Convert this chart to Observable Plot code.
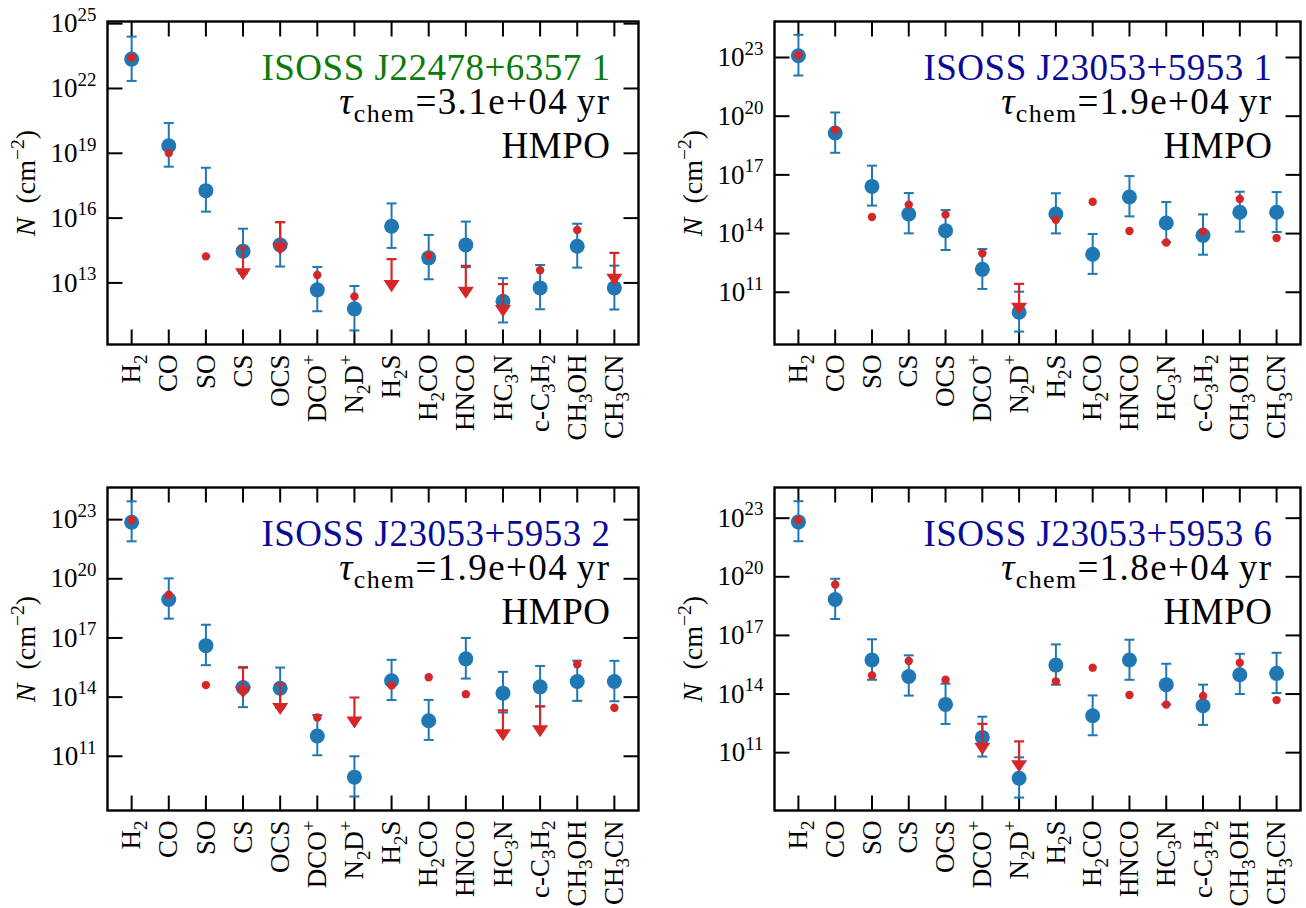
<!DOCTYPE html>
<html><head><meta charset="utf-8">
<script src="https://cdn.jsdelivr.net/npm/d3@7"></script>
<script src="https://cdn.jsdelivr.net/npm/@observablehq/plot@0.6"></script>
<style>
html,body{margin:0;padding:0;background:#fff;}
#fig{position:relative;width:1306px;height:908px;overflow:hidden;background:#fff;}
.panel{position:absolute;}
</style></head><body><div id="fig"></div>
<script>
// ---------- categories ----------
const species = ["H_2","CO","SO","CS","OCS","DCO^+","N_2D^+","H_2S","H_2CO","HNCO","HC_3N","c-C_3H_2","CH_3OH","CH_3CN"];

// ---------- panel titles ----------
const sourceNames = ["ISOSS J22478+6357 1","ISOSS J23053+5953 1","ISOSS J23053+5953 2","ISOSS J23053+5953 6"];
const sourceColors = ["#0b7a0b","#0a0a96","#0a0a96","#0a0a96"];
const tauChem = ["3.1e+04","1.9e+04","1.9e+04","1.8e+04"];
const stageLabel = ["HMPO","HMPO","HMPO","HMPO"];

// ---------- values: log10 N (cm^-2) ----------
// panel 1: ISOSS J22478+6357 1
const p1Model   = [23.36,19.35,17.27,14.47,14.76,12.68,11.80,15.62,14.16,14.76,12.15,12.77,14.70,12.77];
const p1ModelLo = [22.35,18.38,16.30,13.45,13.76,11.69,10.80,14.62,13.17,13.73,11.17,11.78,13.71,11.77];
const p1ModelHi = [24.40,20.40,18.33,15.51,15.81,13.74,12.86,16.68,15.22,15.84,13.22,13.83,15.74,13.80];
const p1Obs     = [23.43,19.01,14.23,14.65,15.81,13.37,12.37,14.10,14.27,13.79,12.94,13.59,15.45,14.39];
const p1Upper   = [0,0,0,1,1,0,0,1,0,1,1,0,0,1];
// panel 2: ISOSS J23053+5953 1
const p2Model   = [23.09,19.14,16.41,15.00,14.15,12.17,9.98,15.00,12.94,15.87,14.54,13.91,15.09,15.09];
const p2ModelLo = [22.08,18.13,15.43,14.01,13.16,11.17,8.99,14.01,11.94,14.88,13.55,12.92,14.10,14.08];
const p2ModelHi = [24.16,20.19,17.47,16.07,15.20,13.21,11.03,16.06,13.98,16.94,15.61,14.98,16.14,16.12];
const p2Obs     = [23.12,19.29,14.85,15.48,14.97,12.99,11.43,14.71,15.63,14.13,13.54,14.10,15.77,13.77];
const p2Upper   = [0,0,0,0,0,0,1,0,0,0,0,0,0,0];
// panel 3: ISOSS J23053+5953 2
const p3Model   = [22.87,18.95,16.61,14.49,14.45,12.03,9.94,14.83,12.80,15.94,14.20,14.52,14.79,14.79];
const p3ModelLo = [21.90,17.98,15.62,13.49,13.45,11.05,8.96,13.85,11.83,14.94,13.22,13.53,13.81,13.79];
const p3ModelHi = [23.93,20.02,17.67,15.53,15.50,13.09,11.00,15.89,13.86,17.00,15.28,15.58,15.85,15.84];
const p3Obs     = [22.98,19.19,14.61,15.50,14.66,12.97,13.98,14.59,15.01,14.15,13.33,13.53,15.67,13.46];
const p3Upper   = [0,0,0,1,1,0,1,0,0,0,1,1,0,0];
// panel 4: ISOSS J23053+5953 6
const p4Model   = [22.81,18.84,15.74,14.90,13.47,11.78,9.69,15.48,12.89,15.74,14.48,13.40,14.99,15.06];
const p4ModelLo = [21.82,17.84,14.73,13.92,12.47,10.80,8.70,14.48,11.89,14.73,13.47,12.42,14.00,14.05];
const p4ModelHi = [23.87,19.90,16.80,15.98,14.53,12.84,10.76,16.54,13.93,16.78,15.55,14.48,16.06,16.11];
const p4Obs     = [22.90,19.61,14.95,15.69,14.73,12.47,11.58,14.65,15.35,13.95,13.46,13.90,15.60,13.69];
const p4Upper   = [0,0,0,0,0,1,1,0,0,0,0,0,0,0];

// ---------- axis ticks / ranges (log10) ----------
const p1Ticks = [13,16,19,22,25];
const pTicks  = [11,14,17,20,23];
const p1Range = [10.15,25.1];
const p2Range = [8.33,24.84];
const p3Range = [8.25,24.63];
const p4Range = [8.04,24.57];

// ---------- styling ----------
const BLUE = "#1f77b4", RED = "#d62728";
const FONT = "Liberation Serif, DejaVu Serif, serif";
const TICK_FS = 27, LABEL_FS = 28, TITLE_FS = 37;

const panels = [
  {model:p1Model, lo:p1ModelLo, hi:p1ModelHi, obs:p1Obs, ul:p1Upper, ticks:p1Ticks, range:p1Range,
   left:0, top:0, mL:107, mR:15, mT:21, mB:110, arrow:27},
  {model:p2Model, lo:p2ModelLo, hi:p2ModelHi, obs:p2Obs, ul:p2Upper, ticks:pTicks, range:p2Range,
   left:653, top:0, mL:121, mR:6, mT:21, mB:110, arrow:25},
  {model:p3Model, lo:p3ModelLo, hi:p3ModelHi, obs:p3Obs, ul:p3Upper, ticks:pTicks, range:p3Range,
   left:0, top:454, mL:107, mR:15, mT:33, mB:98, arrow:25},
  {model:p4Model, lo:p4ModelLo, hi:p4ModelHi, obs:p4Obs, ul:p4Upper, ticks:pTicks, range:p4Range,
   left:653, top:454, mL:121, mR:6, mT:33, mB:98, arrow:25}
];

const lineShape = {draw(ctx, l){ ctx.moveTo(0,0); ctx.lineTo(0,-l); }};
const capSymbol = {draw(ctx, size){ const w = Math.sqrt(size/Math.PI); ctx.moveTo(-w,0); ctx.lineTo(w,0); }};
const arrowShape = {draw(ctx, l){
  ctx.moveTo(-5,0); ctx.lineTo(5,0);
  ctx.moveTo(0,0); ctx.lineTo(0,-(l-4));
  ctx.moveTo(-6,-(l-5)); ctx.lineTo(6,-(l-5)); ctx.lineTo(0,-(l+4)); ctx.closePath();
}};

// rich text: _x / _{..} subscript, ^x / ^{..} superscript, *..* italic
function parseRich(str){
  const segs=[]; let i=0, buf="", it=false;
  const flush=()=>{ if(buf){ segs.push({t:buf,m:"n",it}); buf=""; } };
  while(i<str.length){
    const c=str[i];
    if(c==="*"){ flush(); it=!it; i++; continue; }
    if(c==="_"||c==="^"){
      flush(); const m = c==="_"?"sub":"sup"; i++; let t;
      if(str[i]==="{"){ const j=str.indexOf("}",i); t=str.slice(i+1,j); i=j+1; }
      else { t=str[i]; i++; }
      segs.push({t,m,it}); continue;
    }
    buf+=c; i++;
  }
  flush(); return segs;
}
function richify(svg){
  d3.select(svg).selectAll("text").each(function(){
    const el=this; const s=el.textContent;
    const F=parseFloat(getComputedStyle(el).fontSize)||TICK_FS;
    if(F>=TITLE_FS-1) el.setAttribute("letter-spacing", s.includes("τ") ? "1.4" : "0.5");
    if(!/[_^*]/.test(s) || el.querySelector("tspan")) return;
    const segs=parseRich(s);
    el.textContent="";
    let cur=0;
    for(const g of segs){
      const ts=document.createElementNS("http://www.w3.org/2000/svg","tspan");
      const target = g.m==="sub"? 0.24*F : g.m==="sup"? -0.42*F : 0;
      if(target!==cur){ ts.setAttribute("dy", (target-cur).toFixed(2)); cur=target; }
      if(g.m!=="n") ts.setAttribute("font-size", (0.7*F).toFixed(2));
      if(g.it) ts.setAttribute("font-style","italic");
      ts.textContent=g.t;
      el.appendChild(ts);
    }
  });
}

const fig=document.getElementById("fig");
panels.forEach((p,k)=>{
  const rows = species.map((s,i)=>({s, m:10**p.model[i], lo:10**p.lo[i], hi:10**p.hi[i], o:10**p.obs[i], ul:!!p.ul[i]}));
  const yt = p.ticks.map(e=>10**e);
  const W=653, H=454;
  const chart = Plot.plot({
    width:W, height:H,
    marginLeft:p.mL, marginRight:p.mR, marginTop:p.mT, marginBottom:p.mB,
    style:{fontFamily:FONT, fontSize:TICK_FS+"px", background:"white", color:"black"},
    x:{type:"point", domain:species, padding:0.65, round:false},
    y:{type:"log", domain:[10**p.range[0], 10**p.range[1]]},
    marks:[
      // tick labels
      Plot.axisY({ticks:yt, tickSize:0, tickPadding:11, label:null, fontSize:TICK_FS,
        tickFormat:d=>"10^{"+Math.round(Math.log10(d))+"}"}),
      Plot.axisX({tickSize:0, tickPadding:10, tickRotate:-90, label:null, fontSize:TICK_FS}),
      // inward ticks on all four sides
      Plot.vector(yt, {y:d=>d, frameAnchor:"left", rotate:90, length:15, anchor:"start", shape:lineShape, stroke:"black", strokeWidth:2, strokeLinecap:"butt"}),
      Plot.vector(yt, {y:d=>d, frameAnchor:"right", rotate:270, length:15, anchor:"start", shape:lineShape, stroke:"black", strokeWidth:2, strokeLinecap:"butt"}),
      Plot.vector(species, {x:d=>d, frameAnchor:"bottom", rotate:0, length:15, anchor:"start", shape:lineShape, stroke:"black", strokeWidth:2, strokeLinecap:"butt"}),
      Plot.vector(species, {x:d=>d, frameAnchor:"top", rotate:180, length:15, anchor:"start", shape:lineShape, stroke:"black", strokeWidth:2, strokeLinecap:"butt"}),
      // model (blue) with error bars
      Plot.ruleX(rows, {x:"s", y1:"lo", y2:"hi", stroke:BLUE, strokeWidth:2}),
      Plot.dot(rows, {x:"s", y:"lo", symbol:capSymbol, r:5, stroke:BLUE, strokeWidth:2, fill:"none"}),
      Plot.dot(rows, {x:"s", y:"hi", symbol:capSymbol, r:5, stroke:BLUE, strokeWidth:2, fill:"none"}),
      Plot.dot(rows, {x:"s", y:"m", r:7.5, fill:BLUE, stroke:"none"}),
      // observations (red): detections and upper limits
      Plot.dot(rows.filter(d=>!d.ul), {x:"s", y:"o", r:4.2, fill:RED, stroke:"none"}),
      Plot.vector(rows.filter(d=>d.ul), {x:"s", y:"o", rotate:180, anchor:"start", length:p.arrow, shape:arrowShape, stroke:RED, fill:RED, strokeWidth:2.2, strokeLinecap:"butt", strokeLinejoin:"miter"}),
      // frame
      Plot.frame({stroke:"black", strokeWidth:2.4}),
      // annotations
      Plot.text([sourceNames[k]], {text:d=>d, frameAnchor:"top-right", textAnchor:"end", lineAnchor:"bottom", dx:-28, dy:58, fontSize:TITLE_FS, fill:sourceColors[k]}),
      Plot.text(["*τ*_{chem}=" + tauChem[k] + "\u2009yr"], {text:d=>d, frameAnchor:"top-right", textAnchor:"end", lineAnchor:"bottom", dx:-28, dy:92, fontSize:TITLE_FS, fill:"black"}),
      Plot.text([stageLabel[k]], {text:d=>d, frameAnchor:"top-right", textAnchor:"end", lineAnchor:"bottom", dx:-28, dy:136, fontSize:TITLE_FS, fill:"black"}),
      Plot.text(["*N*\u2002(cm^{−2})"], {text:d=>d, frameAnchor:"left", rotate:-90, dx:-81, textAnchor:"middle", fontSize:LABEL_FS, fill:"black"})
    ]
  });
  const div=document.createElement("div");
  div.className="panel"; div.style.left=p.left+"px"; div.style.top=p.top+"px";
  div.appendChild(chart); fig.appendChild(div);
  richify(chart);
});
</script></body></html>
